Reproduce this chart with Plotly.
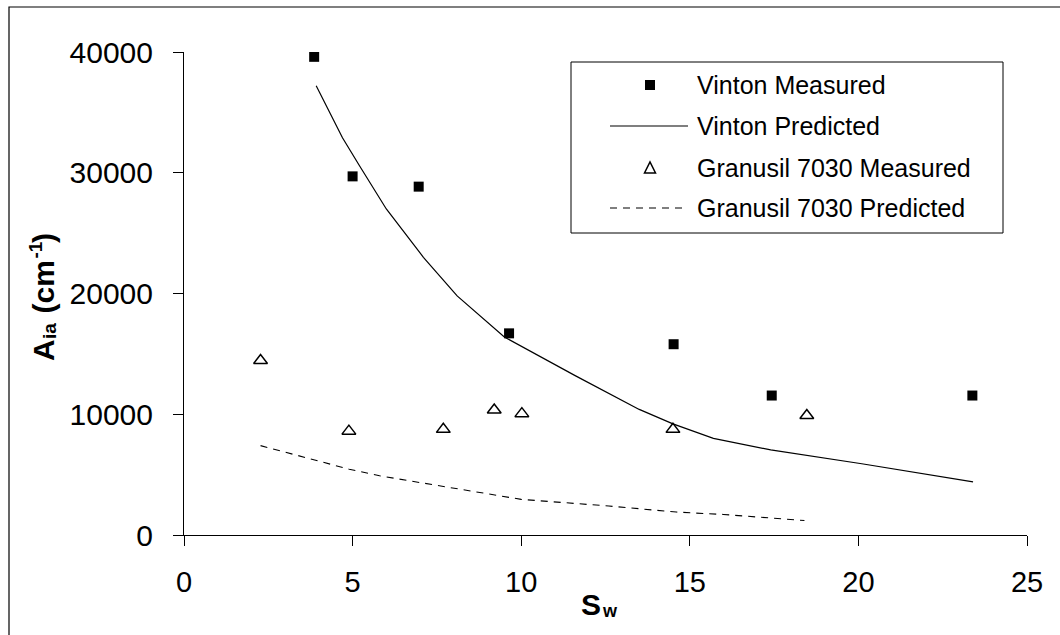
import plotly.graph_objects as go

# ---------------- data ----------------
vinton_meas_sw = [3.86, 5.0, 6.96, 9.64, 14.52, 17.43, 23.38]
vinton_meas_a = [39600, 29700, 28850, 16700, 15800, 11550, 11550]

vinton_pred_sw = [3.92, 4.7, 5.2, 6.0, 7.1, 8.1, 9.5, 11.6, 13.5, 14.5, 15.7, 17.4, 20.1, 23.4]
vinton_pred_a = [37200, 32900, 30600, 27000, 23000, 19800, 16400, 13200, 10400, 9200, 8000, 7050, 5900, 4400]

granusil_meas_sw = [2.27, 4.89, 7.69, 9.2, 10.02, 14.5, 18.47]
granusil_meas_a = [14450, 8600, 8750, 10350, 10050, 8750, 9900]

granusil_pred_sw = [2.27, 4.9, 5.8, 7.7, 9.2, 10.0, 12.6, 14.6, 16.0, 18.4]
granusil_pred_a = [7400, 5450, 4900, 4000, 3300, 2950, 2400, 1900, 1700, 1200]

x_ticks = [0, 5, 10, 15, 20, 25]
y_ticks = [0, 10000, 20000, 30000, 40000]

legend_names = ["Vinton Measured", "Vinton Predicted",
                "Granusil 7030 Measured", "Granusil 7030 Predicted"]

# ---------------- layout geometry (pixels) ----------------
W, H = 1060, 635
L, R, T, B = 184, 1027, 52, 535
PW, PH = R - L, B - T


def fx(px):
    return (px - L) / PW


def fy(py):
    return (B - py) / PH


FONT = "Liberation Sans, Arial, sans-serif"

fig = go.Figure()

fig.add_trace(go.Scatter(
    x=vinton_pred_sw, y=vinton_pred_a, mode="lines", name=legend_names[1],
    line=dict(color="black", width=1.2), showlegend=False))
fig.add_trace(go.Scatter(
    x=granusil_pred_sw, y=granusil_pred_a, mode="lines", name=legend_names[3],
    line=dict(color="black", width=1.1, dash="7px,6px"), showlegend=False))
fig.add_trace(go.Scatter(
    x=vinton_meas_sw, y=vinton_meas_a, mode="markers", name=legend_names[0],
    marker=dict(symbol="square", size=10, color="black"), showlegend=False))
fig.add_trace(go.Scatter(
    x=granusil_meas_sw, y=granusil_meas_a, mode="markers", name=legend_names[2],
    marker=dict(symbol="triangle-up-open", size=12, color="black",
                line=dict(width=1.5, color="black")), showlegend=False))

shapes = []
annotations = []

# outer chart border (right/bottom fall outside the picture)
shapes.append(dict(type="rect", xref="paper", yref="paper",
                   x0=fx(9), x1=fx(1075), y0=fy(650), y1=fy(7),
                   line=dict(color="black", width=1.2), fillcolor="rgba(0,0,0,0)",
                   layer="below"))

# custom legend box
shapes.append(dict(type="rect", xref="paper", yref="paper",
                   x0=fx(571), x1=fx(1003), y0=fy(233), y1=fy(62),
                   line=dict(color="black", width=1), fillcolor="white"))

rows = [85, 126, 168, 208]
sym_x = 650
# square symbol
shapes.append(dict(type="rect", xref="paper", yref="paper",
                   x0=fx(sym_x - 5), x1=fx(sym_x + 5), y0=fy(rows[0] + 5), y1=fy(rows[0] - 5),
                   line=dict(color="black", width=0), fillcolor="black"))
# solid line symbol
shapes.append(dict(type="line", xref="paper", yref="paper",
                   x0=fx(610), x1=fx(688), y0=fy(rows[1]), y1=fy(rows[1]),
                   line=dict(color="black", width=1.2)))
# triangle symbol
ty = rows[2]
tri = "M {},{} L {},{} L {},{} Z".format(
    fx(sym_x - 5.5), fy(ty + 5), fx(sym_x + 5.5), fy(ty + 5), fx(sym_x), fy(ty - 6))
shapes.append(dict(type="path", xref="paper", yref="paper", path=tri,
                   line=dict(color="black", width=1.5), fillcolor="white"))
# dashed line symbol
shapes.append(dict(type="line", xref="paper", yref="paper",
                   x0=fx(610), x1=fx(688), y0=fy(rows[3]), y1=fy(rows[3]),
                   line=dict(color="black", width=1.1, dash="7px,6px")))

for name, ry in zip(legend_names, rows):
    annotations.append(dict(xref="paper", yref="paper", x=fx(695), y=fy(ry),
                            xanchor="left", yanchor="middle", showarrow=False,
                            text=name, font=dict(family=FONT, size=25, color="black")))


def ann(text, x, y, size, xanchor="center", yanchor="middle", angle=0):
    annotations.append(dict(xref="paper", yref="paper", x=fx(x), y=fy(y),
                            xanchor=xanchor, yanchor=yanchor, showarrow=False,
                            textangle=angle, text="<b>%s</b>" % text,
                            font=dict(family=FONT, size=size, color="black")))


# y-axis title: A_ia (cm^-1), rotated, built from pieces with explicit sizes
ann("A", 43, 363, 30, yanchor="bottom", angle=-90)
ann("ia", 49, 341, 19, yanchor="bottom", angle=-90)
ann("(cm", 43, 316, 30, yanchor="bottom", angle=-90)
ann("-1", 35, 261, 19, yanchor="bottom", angle=-90)
ann(")", 43, 245, 30, yanchor="bottom", angle=-90)

# x-axis title: S_w
ann("S", 603, 604, 30, xanchor="right")
ann("w", 600, 611, 18, xanchor="left")

fig.update_layout(
    width=W, height=H,
    margin=dict(l=L, r=W - R, t=T, b=H - B, pad=0),
    paper_bgcolor="white", plot_bgcolor="white",
    showlegend=False,
    shapes=shapes, annotations=annotations,
    font=dict(family=FONT, color="black"),
)

fig.update_xaxes(range=[0, 25], tickvals=x_ticks, ticktext=[str(v) for v in x_ticks],
                 showgrid=False, zeroline=False, showline=True, linecolor="black", linewidth=1,
                 ticks="outside", ticklen=10, tickcolor="black", tickwidth=1,
                 tickfont=dict(family=FONT, size=29, color="black"), ticklabelstandoff=11)
fig.update_yaxes(range=[0, 40000], tickvals=y_ticks, ticktext=[str(v) for v in y_ticks],
                 showgrid=False, zeroline=False, showline=True, linecolor="black", linewidth=1,
                 ticks="outside", ticklen=10, tickcolor="black", tickwidth=1,
                 tickfont=dict(family=FONT, size=30, color="black"), ticklabelstandoff=14)

fig.write_html("out.html")
